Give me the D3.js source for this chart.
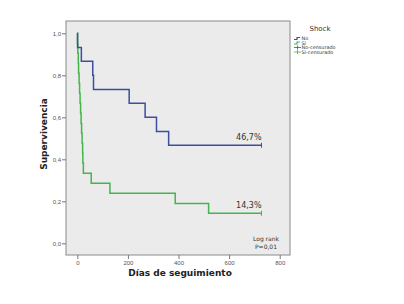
<!DOCTYPE html>
<html>
<head>
<meta charset="utf-8">
<script src="https://cdn.jsdelivr.net/npm/d3@7"></script>
<style>
  html, body { margin: 0; padding: 0; background: #fff; }
  svg { display: block; font-family: "DejaVu Sans", sans-serif; }
  .tick text { fill: #555; font-size: 6px; }
</style>
</head>
<body>
<div id="chart"></div>
<script>
// Kaplan-Meier steps (time in days, survival after the event)
const noTimes = [1, 16, 61, 64, 205, 268, 313, 361];
const noSurv = [0.933, 0.867, 0.8, 0.733, 0.667, 0.6, 0.533, 0.467];
const noCensored = [728];

const siTimes = [1, 2, 4, 5, 7, 9, 11, 13, 15, 17, 19, 21, 22, 24, 55, 129, 387, 519];
const siSurv = [0.952, 0.905, 0.857, 0.81, 0.762, 0.714, 0.667, 0.619, 0.571, 0.524,
  0.476, 0.429, 0.381, 0.333, 0.286, 0.238, 0.19, 0.143];
const siCensored = [728];

const xTicks = [0, 200, 400, 600, 800];
const yTicks = [0, 0.2, 0.4, 0.6, 0.8, 1.0];
const groups = ["No", "Si"];
const legendLabels = ["No", "Si", "No-censurado", "Si-censurado"];
const endLabels = ["46,7%", "14,3%"];

const BLUE = "#3b4f9e";
const GREEN = "#45b54b";

const width = 404, height = 304;
const plot = { left: 66, right: 290, top: 21, bottom: 255 };

const svg = d3.select("#chart").append("svg")
  .attr("width", width)
  .attr("height", height);

const x = d3.scaleLinear().domain([-44.7, 840.7]).range([plot.left, plot.right]);
const y = d3.scaleLinear().domain([-0.0557, 1.0586]).range([plot.bottom, plot.top]);

svg.append("rect")
  .attr("x", plot.left).attr("y", plot.top)
  .attr("width", plot.right - plot.left)
  .attr("height", plot.bottom - plot.top)
  .attr("fill", "#ebebeb")
  .attr("stroke", "#8a8a8a")
  .attr("stroke-width", 1);

const xAxis = svg.append("g")
  .attr("transform", `translate(0,${plot.bottom})`)
  .call(d3.axisBottom(x).tickValues(xTicks).tickSize(4).tickPadding(2).tickFormat(d3.format("d")));
const yAxis = svg.append("g")
  .attr("transform", `translate(${plot.left},0)`)
  .call(d3.axisLeft(y).tickValues(yTicks).tickSize(4).tickPadding(1)
    .tickFormat(d => d.toFixed(1).replace(".", ",")));
[xAxis, yAxis].forEach(a => {
  a.select(".domain").remove();
  a.selectAll(".tick line").attr("stroke", "#777");
});

function stepPoints(times, surv, endTime) {
  const pts = [[0, 1]];
  let prev = 1;
  times.forEach((t, i) => {
    pts.push([t, prev]);
    pts.push([t, surv[i]]);
    prev = surv[i];
  });
  pts.push([endTime, prev]);
  return pts;
}

const line = d3.line().x(d => x(d[0])).y(d => y(d[1]));
const series = [
  { pts: stepPoints(noTimes, noSurv, d3.max(noCensored)), color: BLUE, cens: noCensored, last: noSurv[noSurv.length - 1] },
  { pts: stepPoints(siTimes, siSurv, d3.max(siCensored)), color: GREEN, cens: siCensored, last: siSurv[siSurv.length - 1] }
];

// draw green first so blue sits on top like the original
series.slice().reverse().forEach(s => {
  svg.append("path")
    .attr("d", line(s.pts))
    .attr("fill", "none")
    .attr("stroke", s.color)
    .attr("stroke-width", 1.5);
  s.cens.forEach(t => {
    svg.append("line")
      .attr("x1", x(t)).attr("x2", x(t))
      .attr("y1", y(s.last) - 2.5).attr("y2", y(s.last) + 2.5)
      .attr("stroke", s.color).attr("stroke-width", 1);
  });
});

series.forEach((s, i) => {
  svg.append("text")
    .attr("x", x(s.cens[0]))
    .attr("y", y(s.last) - 5)
    .attr("text-anchor", "end")
    .attr("font-size", 8)
    .attr("fill", "#333")
    .text(endLabels[i]);
});

svg.append("text")
  .attr("x", 266).attr("y", 241)
  .attr("text-anchor", "middle")
  .attr("font-size", 6)
  .attr("fill", "#333")
  .text("Log rank");
svg.append("text")
  .attr("x", 266).attr("y", 248.5)
  .attr("text-anchor", "middle")
  .attr("font-size", 6)
  .attr("fill", "#333")
  .text("P=0,01");

svg.append("text")
  .attr("x", (plot.left + plot.right) / 2 + 2)
  .attr("y", 276)
  .attr("text-anchor", "middle")
  .attr("font-size", 9)
  .attr("font-weight", "bold")
  .attr("fill", "#222")
  .text("Días de seguimiento");

svg.append("text")
  .attr("transform", `translate(47,${(plot.top + plot.bottom) / 2 - 4}) rotate(-90)`)
  .attr("text-anchor", "middle")
  .attr("font-size", 9)
  .attr("font-weight", "bold")
  .attr("fill", "#222")
  .text("Supervivencia");

// legend
const lg = svg.append("g");
lg.append("text")
  .attr("x", 320).attr("y", 31)
  .attr("text-anchor", "middle")
  .attr("font-size", 7)
  .attr("fill", "#333")
  .text("Shock");

const legendColors = [BLUE, GREEN, BLUE, GREEN];
legendLabels.forEach((lab, i) => {
  const cy = 38.5 + i * 4.5;
  const c = legendColors[i];
  if (i < groups.length) {
    lg.append("path")
      .attr("d", `M294,${cy + 1} H297 V${cy - 1} H300`)
      .attr("fill", "none")
      .attr("stroke", c)
      .attr("stroke-width", 1.2);
  } else {
    lg.append("line").attr("x1", 294).attr("x2", 301).attr("y1", cy).attr("y2", cy)
      .attr("stroke", c).attr("stroke-width", 0.8);
    lg.append("line").attr("x1", 297.5).attr("x2", 297.5).attr("y1", cy - 2).attr("y2", cy + 2)
      .attr("stroke", c).attr("stroke-width", 0.8);
  }
  lg.append("text")
    .attr("x", 301.5).attr("y", cy + 1.7)
    .attr("font-size", 4.9)
    .attr("fill", "#333")
    .text(lab);
});
</script>
</body>
</html>
